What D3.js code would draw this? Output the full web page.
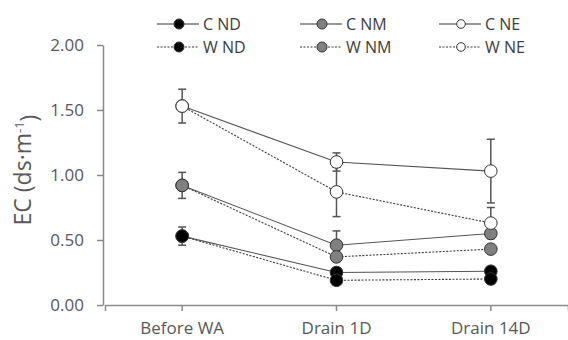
<!DOCTYPE html>
<html>
<head>
<meta charset="utf-8">
<script src="https://cdn.jsdelivr.net/npm/d3@7"></script>
<style>
  body { margin: 0; background: #fff; }
  svg text { font-family: "Open Sans", "Noto Sans", sans-serif; }
</style>
</head>
<body>
<div id="chart"></div>
<script>
"use strict";

// data
const stages = ["Before WA", "Drain 1D", "Drain 14D"];
const seriesNames = ["C ND", "C NM", "C NE", "W ND", "W NM", "W NE"];
const cND = [0.53, 0.25, 0.26];
const cNM = [0.92, 0.46, 0.55];
const cNE = [1.53, 1.10, 1.03];
const wND = [0.53, 0.19, 0.20];
const wNM = [0.92, 0.37, 0.43];
const wNE = [1.53, 0.87, 0.63];
const cNDErr = [0.07, 0.02, 0.02];
const cNMErr = [0.10, 0.11, 0.03];
const cNEErr = [0.13, 0.07, 0.245];
const wNDErr = [0.03, 0.02, 0.02];
const wNMErr = [0.03, 0.03, 0.03];
const wNEErr = [0.03, 0.19, 0.12];
const yTicks = [0, 0.5, 1.0, 1.5, 2.0];

function init() {
    apply();
};
window.onload = init;

function apply() {
    const width = 568, height = 340;
    const margin = {top: 45, right: 0, bottom: 35, left: 105};

    const svg = d3.select("#chart")
                  .append("svg")
                  .attr("width", width)
                  .attr("height", height);

    const x = d3.scaleBand()
                .domain(stages)
                .range([margin.left, width])
                .padding(0);

    const y = d3.scaleLinear()
                .domain([0, 2])
                .range([height - margin.bottom, margin.top]);

    // series table built from the arrays above
    const fills = {ND: "#000000", NM: "#808080", NE: "#ffffff"};
    const valueLists = [cND, cNM, cNE, wND, wNM, wNE];
    const errLists = [cNDErr, cNMErr, cNEErr, wNDErr, wNMErr, wNEErr];
    const series = seriesNames.map(function(name, i) {
        return {
            name: name,
            dashed: name[0] === "W",
            fill: fills[name.slice(2)],
            points: stages.map(function(s, j) {
                return {stage: s, value: valueLists[i][j], err: errLists[i][j]};
            })
        };
    });

    // Y axis
    const yAxis = svg.append("g")
        .attr("transform", `translate(${margin.left - 2},0)`)
        .call(d3.axisLeft(y).tickValues(yTicks).tickFormat(d3.format(".2f")).tickSize(6).tickSizeOuter(0).tickPadding(13));
    // X axis
    const xAxis = svg.append("g")
        .attr("transform", `translate(0,${height - margin.bottom})`)
        .call(d3.axisBottom(x).tickSize(6).tickSizeOuter(6).tickPadding(11));

    [yAxis, xAxis].forEach(function(ax) {
        ax.select(".domain").attr("stroke", "#8a8a8a").attr("stroke-width", 1.5);
        ax.selectAll(".tick line").attr("stroke", "#8a8a8a").attr("stroke-width", 1.5);
        ax.selectAll(".tick text")
          .attr("fill", "#595959")
          .style("font-size", "17px")
          .style("font-family", "'Open Sans', sans-serif");
    });
    yAxis.selectAll(".tick text").attr("dy", "0.35em");
    xAxis.selectAll(".tick text").attr("dy", "0.71em");

    // y label
    const yLabel = svg.append("text")
        .attr("transform", "translate(31,170) rotate(-90)")
        .attr("text-anchor", "middle")
        .attr("fill", "#595959")
        .style("font-size", "23px");
    yLabel.append("tspan").text("EC (ds\u00b7m");
    yLabel.append("tspan").attr("dy", "-0.55em").style("font-size", "13px").text("-1");
    yLabel.append("tspan").attr("dy", "0.55em").text(")");

    const cx = function(d) { return x(d.stage) + x.bandwidth() / 2; };

    const line = d3.line()
        .x(cx)
        .y(function(d) { return y(d.value); });

    // lines
    svg.append("g").selectAll("path")
        .data(series)
        .enter().append("path")
          .attr("d", function(d) { return line(d.points); })
          .attr("fill", "none")
          .attr("stroke", function(d) { return d.dashed ? "#3a3a3a" : "#555"; })
          .attr("stroke-width", 1.1)
          .attr("stroke-dasharray", function(d) { return d.dashed ? "2,1.5" : null; });

    // error bars
    const errG = svg.append("g").selectAll("g")
        .data(series)
        .enter().append("g")
        .selectAll("g")
        .data(function(d) { return d.points; })
        .enter().append("g")
          .attr("stroke", "#555")
          .attr("stroke-width", 1.5);
    errG.append("line")
        .attr("x1", cx).attr("x2", cx)
        .attr("y1", function(d) { return y(d.value + d.err); })
        .attr("y2", function(d) { return y(d.value - d.err); });
    errG.append("line")
        .attr("x1", function(d) { return cx(d) - 4; }).attr("x2", function(d) { return cx(d) + 4; })
        .attr("y1", function(d) { return y(d.value + d.err); })
        .attr("y2", function(d) { return y(d.value + d.err); });
    errG.append("line")
        .attr("x1", function(d) { return cx(d) - 4; }).attr("x2", function(d) { return cx(d) + 4; })
        .attr("y1", function(d) { return y(d.value - d.err); })
        .attr("y2", function(d) { return y(d.value - d.err); });

    // markers
    svg.append("g").selectAll("g")
        .data(series)
        .enter().append("g")
          .attr("fill", function(d) { return d.fill; })
        .selectAll("circle")
        .data(function(d) { return d.points; })
        .enter().append("circle")
          .attr("cx", cx)
          .attr("cy", function(d) { return y(d.value); })
          .attr("r", 6.3)
          .attr("stroke", "#333")
          .attr("stroke-width", 1);

    // legend: 3 columns (ND, NM, NE), 2 rows (C, W)
    const legCols = [179, 322, 461];
    const legRows = [24, 47];
    const leg = svg.append("g").selectAll("g")
        .data(series)
        .enter().append("g")
          .attr("transform", function(d, i) { return `translate(${legCols[i % 3]},${legRows[Math.floor(i / 3)]})`; });
    leg.append("line")
        .attr("x1", -22).attr("x2", 20)
        .attr("stroke", function(d) { return d.dashed ? "#3a3a3a" : "#333"; })
        .attr("stroke-width", 1.1)
        .attr("stroke-dasharray", function(d) { return d.dashed ? "2,1.5" : null; });
    leg.append("circle")
        .attr("r", function(d, i) { return i % 3 === 2 ? 4.3 : 5; })
        .attr("fill", function(d) { return d.fill; })
        .attr("stroke", "#333")
        .attr("stroke-width", 1);
    leg.append("text")
        .attr("x", 24)
        .attr("dy", "0.35em")
        .attr("fill", "#404040")
        .style("font-size", "16px")
        .text(function(d) { return d.name; });
}
</script>
</body>
</html>
